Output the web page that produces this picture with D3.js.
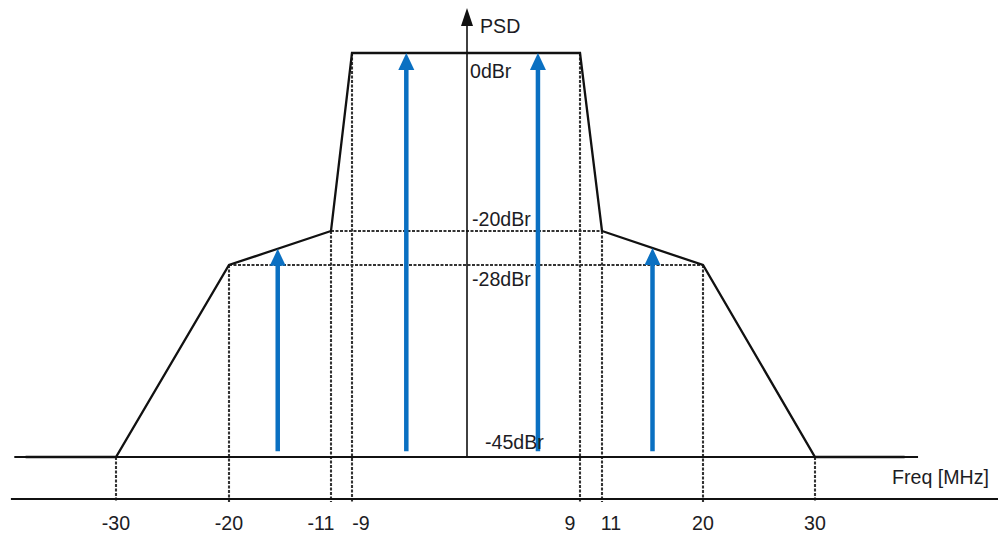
<!DOCTYPE html>
<html>
<head>
<meta charset="utf-8">
<script src="https://cdn.jsdelivr.net/npm/d3@7"></script>
<style>
  html, body { margin: 0; padding: 0; background: #fff; }
  svg { display: block; font-family: "Liberation Sans", Arial, sans-serif; }
</style>
</head>
<body>
<svg id="chart" width="998" height="534"></svg>
<script>
// Spectral mask corner frequencies (MHz) and relative levels (dBr)
const freqTicks = [-30, -20, -11, -9, 9, 11, 20, 30];
const maskFreq  = [-38, -30, -20, -11, -9, 9, 11, 20, 30, 38];
const maskLevel = [-45, -45, -28, -20, 0, 0, -20, -28, -45, -45];

// Reference levels marked on the PSD axis
const levels      = [0, -20, -28, -45];
const levelLabels = ["0dBr", "-20dBr", "-28dBr", "-45dBr"];

// Tones: frequency, arrow start level and arrow tip level
const toneFreq = [-15.7, -4.75, 5.65, 15.5];
const toneFrom = [-44.5, -44.5, -44.5, -44.5];
const toneTo   = [-24.2, 0, 0, -24];

// Guide lines: dashed horizontals spanning between mask corners
const guideLevel = [-20, -28];
const guideFrom  = [-11, -20];
const guideTo    = [11, 20];

const W = 998, H = 534;
const svg = d3.select("#chart");

// Schematic (non-uniform) frequency axis
const x = d3.scaleLinear()
  .domain([-30, -20, -11, -9, 0, 9, 11, 20, 30])
  .range([116, 229, 331, 352, 467, 580, 602, 703, 815]);

// Schematic (non-uniform) level axis
const y = d3.scaleLinear()
  .domain([0, -20, -28, -45])
  .range([53, 231, 265, 457]);

const lowerY = y(-45) + 42;          // secondary frequency line
const ink = "#111";
const dashInk = "#333";
const blue = "#0a70c2";

// mask level at any frequency (for vertical guides)
const maskAt = d3.scaleLinear().domain(maskFreq.slice(1, -1)).range(maskLevel.slice(1, -1));

// --- dashed vertical guides from mask corner down to the lower line
svg.append("g").selectAll("line")
  .data(freqTicks)
  .join("line")
  .attr("x1", d => x(d)).attr("x2", d => x(d))
  .attr("y1", d => y(maskAt(d))).attr("y2", lowerY + 3)
  .attr("stroke", dashInk).attr("stroke-width", 2.1)
  .attr("stroke-dasharray", "3,1.5");

// --- dashed horizontal guides
svg.append("g").selectAll("line")
  .data(guideLevel)
  .join("line")
  .attr("x1", (d, i) => x(guideFrom[i])).attr("x2", (d, i) => x(guideTo[i]))
  .attr("y1", d => y(d)).attr("y2", d => y(d))
  .attr("stroke", dashInk).attr("stroke-width", 2.1)
  .attr("stroke-dasharray", "3,1.5");

// --- baseline at -45 dBr and lower frequency line
svg.append("line")
  .attr("x1", x(-39)).attr("x2", x(39.2))
  .attr("y1", y(-45)).attr("y2", y(-45))
  .attr("stroke", ink).attr("stroke-width", 1.8);

svg.append("line")
  .attr("x1", x(-39.3)).attr("x2", W)
  .attr("y1", lowerY).attr("y2", lowerY)
  .attr("stroke", ink).attr("stroke-width", 2);

// --- PSD axis with arrowhead
const axisX = x(0);
svg.append("line")
  .attr("x1", axisX).attr("x2", axisX)
  .attr("y1", y(-45)).attr("y2", y(0) - 28)
  .attr("stroke", ink).attr("stroke-width", 1.6);
svg.append("path")
  .attr("d", `M${axisX},${y(0) - 45} L${axisX - 6},${y(0) - 27} L${axisX + 6},${y(0) - 27} Z`)
  .attr("fill", ink);

// --- spectral mask
svg.append("path")
  .datum(d3.zip(maskFreq, maskLevel))
  .attr("d", d3.line().x(d => x(d[0])).y(d => y(d[1])))
  .attr("fill", "none")
  .attr("stroke", ink)
  .attr("stroke-width", 2.3)
  .attr("stroke-linejoin", "miter");

// --- tone arrows
const headLen = 17, headHalf = 8;
const tones = svg.append("g").selectAll("g")
  .data(toneFreq)
  .join("g");
tones.append("line")
  .attr("x1", d => x(d)).attr("x2", d => x(d))
  .attr("y1", (d, i) => y(toneFrom[i]))
  .attr("y2", (d, i) => y(toneTo[i]) + headLen - 1)
  .attr("stroke", blue).attr("stroke-width", 4.5);
tones.append("path")
  .attr("d", (d, i) => {
    const cx = x(d), ty = y(toneTo[i]);
    return `M${cx},${ty} L${cx - headHalf},${ty + headLen} L${cx + headHalf},${ty + headLen} Z`;
  })
  .attr("fill", blue);

// --- text
const textInk = "#1c1c24";
const fs = 19.6;
svg.append("text")
  .attr("x", axisX + 13).attr("y", 33)
  .attr("font-size", fs).attr("fill", textInk)
  .text("PSD");

// level label placement relative to its level line
const levelDx = { "0": 3, "-20": 5, "-28": 5, "-45": 18 };
const levelDy = { "0": 25, "-20": -5, "-28": 21, "-45": -8 };
svg.append("g").selectAll("text")
  .data(levels)
  .join("text")
  .attr("x", d => axisX + levelDx[d])
  .attr("y", d => y(d) + levelDy[d])
  .attr("font-size", fs).attr("fill", textInk)
  .text((d, i) => levelLabels[i]);

svg.append("text")
  .attr("x", 892).attr("y", y(-45) + 27)
  .attr("font-size", fs).attr("fill", textInk)
  .text("Freq [MHz]");

// tick labels; closely spaced pairs are pushed apart
const nudge = freqTicks.map((d, i) => {
  const prev = freqTicks[i - 1], next = freqTicks[i + 1];
  if (next !== undefined && next - d <= 2) return -10;
  if (prev !== undefined && d - prev <= 2) return 9;
  return 0;
});
svg.append("g").selectAll("text")
  .data(freqTicks)
  .join("text")
  .attr("x", (d, i) => x(d) + nudge[i])
  .attr("y", lowerY + 31)
  .attr("text-anchor", "middle")
  .attr("font-size", fs).attr("fill", textInk)
  .text(d => d);
</script>
</body>
</html>
